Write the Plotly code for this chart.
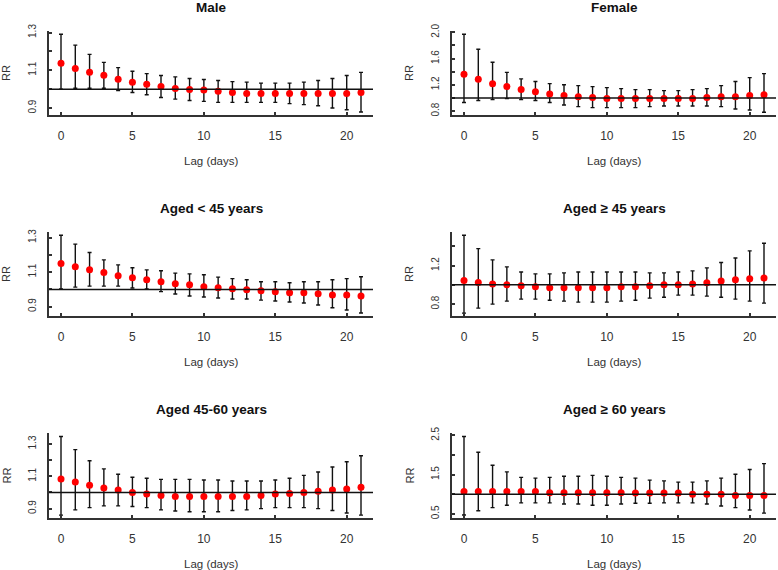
import plotly.graph_objects as go

W, H = 778, 570

lags = list(range(22))

titles = ["Male", "Female", "Aged < 45 years", "Aged \u2265 45 years",
          "Aged 45-60 years", "Aged \u2265 60 years"]

male_rr = [1.137, 1.110, 1.089, 1.074, 1.053, 1.037, 1.026, 1.014, 1.004, 0.998, 0.995,
           0.989, 0.982, 0.977, 0.977, 0.977, 0.977, 0.977, 0.977, 0.977, 0.977, 0.982]
male_hi = [1.291, 1.233, 1.184, 1.142, 1.114, 1.095, 1.082, 1.072, 1.065, 1.056, 1.051,
           1.046, 1.040, 1.037, 1.032, 1.032, 1.032, 1.037, 1.046, 1.056, 1.072, 1.089]
male_lo = [1.000, 1.005, 1.005, 1.005, 0.993, 0.982, 0.970, 0.956, 0.947, 0.940, 0.935,
           0.930, 0.930, 0.930, 0.930, 0.930, 0.923, 0.918, 0.912, 0.900, 0.891, 0.879]

female_rr = [1.360, 1.284, 1.218, 1.173, 1.127, 1.096, 1.061, 1.036, 1.020, 1.005, 0.990,
             0.990, 0.990, 0.990, 0.990, 0.990, 0.990, 1.005, 1.020, 1.020, 1.036, 1.050]
female_hi = [1.970, 1.741, 1.543, 1.390, 1.290, 1.250, 1.218, 1.200, 1.188, 1.173, 1.157,
             1.142, 1.127, 1.127, 1.112, 1.112, 1.127, 1.142, 1.188, 1.250, 1.310, 1.370]
female_lo = [0.930, 0.960, 0.975, 0.990, 0.975, 0.960, 0.930, 0.893, 0.868, 0.853, 0.853,
             0.853, 0.853, 0.868, 0.878, 0.878, 0.878, 0.878, 0.868, 0.832, 0.817, 0.782]

lt45_rr = [1.150, 1.131, 1.113, 1.098, 1.079, 1.067, 1.056, 1.044, 1.033, 1.027, 1.015,
           1.010, 1.004, 0.998, 0.992, 0.987, 0.981, 0.981, 0.975, 0.967, 0.967, 0.962]
lt45_hi = [1.313, 1.262, 1.213, 1.171, 1.142, 1.125, 1.113, 1.108, 1.094, 1.090, 1.085,
           1.071, 1.062, 1.056, 1.044, 1.044, 1.038, 1.044, 1.044, 1.056, 1.062, 1.073]
lt45_lo = [1.002, 1.013, 1.019, 1.019, 1.019, 1.008, 1.002, 0.987, 0.973, 0.962, 0.956,
           0.950, 0.944, 0.944, 0.938, 0.933, 0.927, 0.921, 0.910, 0.894, 0.881, 0.863]

ge45_rr = [1.045, 1.024, 1.010, 1.000, 0.990, 0.979, 0.969, 0.969, 0.969, 0.969, 0.969,
           0.979, 0.979, 0.990, 1.000, 1.000, 1.010, 1.021, 1.041, 1.052, 1.062, 1.072]
ge45_hi = [1.514, 1.376, 1.259, 1.186, 1.134, 1.114, 1.114, 1.124, 1.134, 1.134, 1.134,
           1.134, 1.134, 1.124, 1.124, 1.134, 1.145, 1.176, 1.231, 1.279, 1.352, 1.431]
ge45_lo = [0.707, 0.759, 0.800, 0.831, 0.852, 0.852, 0.841, 0.831, 0.821, 0.821, 0.821,
           0.831, 0.841, 0.862, 0.872, 0.893, 0.893, 0.883, 0.872, 0.852, 0.831, 0.810]

a4560_rr = [1.083, 1.065, 1.044, 1.027, 1.015, 1.000, 0.990, 0.981, 0.975, 0.975, 0.975,
            0.975, 0.975, 0.975, 0.981, 0.990, 0.994, 1.000, 1.008, 1.015, 1.021, 1.033]
a4560_hi = [1.346, 1.265, 1.196, 1.146, 1.113, 1.094, 1.088, 1.081, 1.081, 1.081, 1.077,
            1.077, 1.071, 1.071, 1.071, 1.077, 1.088, 1.106, 1.127, 1.158, 1.190, 1.227]
a4560_lo = [0.860, 0.892, 0.906, 0.917, 0.917, 0.913, 0.906, 0.892, 0.885, 0.881, 0.881,
            0.881, 0.888, 0.892, 0.900, 0.906, 0.906, 0.906, 0.900, 0.888, 0.873, 0.860]

ge60_rr = [1.07, 1.07, 1.07, 1.07, 1.07, 1.07, 1.04, 1.04, 1.04, 1.04, 1.04,
           1.04, 1.03, 1.03, 1.03, 1.03, 1.00, 1.00, 1.00, 0.97, 0.97, 0.97]
ge60_hi = [2.47, 2.07, 1.74, 1.57, 1.43, 1.41, 1.43, 1.46, 1.46, 1.48, 1.46,
           1.43, 1.41, 1.36, 1.34, 1.31, 1.31, 1.34, 1.41, 1.51, 1.63, 1.78]
ge60_lo = [0.47, 0.58, 0.66, 0.72, 0.78, 0.78, 0.78, 0.75, 0.75, 0.72, 0.72,
           0.75, 0.77, 0.77, 0.78, 0.78, 0.78, 0.75, 0.70, 0.66, 0.60, 0.52]

ytick_vals = [
    [0.9, 1.0, 1.1, 1.2, 1.3],
    [0.8, 1.0, 1.2, 1.4, 1.6, 1.8, 2.0],
    [0.9, 1.0, 1.1, 1.2, 1.3],
    [0.8, 1.0, 1.2, 1.4],
    [0.9, 1.0, 1.1, 1.2, 1.3],
    [0.5, 1.0, 1.5, 2.0, 2.5],
]
ytick_text = [
    ["0.9", "", "1.1", "", "1.3"],
    ["0.8", "", "1.2", "", "1.6", "", "2.0"],
    ["0.9", "", "1.1", "", "1.3"],
    ["0.8", "", "1.2", ""],
    ["0.9", "", "1.1", "", "1.3"],
    ["0.5", "", "1.5", "", "2.5"],
]
y_ranges = [[0.863, 1.308], [0.74, 2.02], [0.846, 1.332],
            [0.677, 1.548], [0.842, 1.368], [0.395, 2.56]]
xtick_vals = [0, 5, 10, 15, 20]
x_range = [-0.84, 21.84]

series = [
    (male_rr, male_hi, male_lo),
    (female_rr, female_hi, female_lo),
    (lt45_rr, lt45_hi, lt45_lo),
    (ge45_rr, ge45_hi, ge45_lo),
    (a4560_rr, a4560_hi, a4560_lo),
    (ge60_rr, ge60_hi, ge60_lo),
]

# layout geometry (pixels)
col_x = [(49, 373), (452, 776)]
row_y = [(31, 115), (232, 316), (433, 518)]

FONT = "Liberation Sans, Arial, sans-serif"
AXC = "#333333"

fig = go.Figure()
layout = dict(
    width=W, height=H,
    margin=dict(l=0, r=0, t=0, b=0, pad=0, autoexpand=False),
    paper_bgcolor="white", plot_bgcolor="white",
    showlegend=False,
    font=dict(family=FONT, color="#222222"),
)
annotations = []
shapes = []

for i, (rr, hi, lo) in enumerate(series):
    r, c = divmod(i, 2)
    n = i + 1
    xa = "xaxis" if n == 1 else f"xaxis{n}"
    ya = "yaxis" if n == 1 else f"yaxis{n}"
    xr = "x" if n == 1 else f"x{n}"
    yr = "y" if n == 1 else f"y{n}"
    x0, x1 = col_x[c]
    y0, y1 = row_y[r]
    xdom = [x0 / W, x1 / W]
    ydom = [1 - y1 / H, 1 - y0 / H]

    layout[xa] = dict(
        domain=xdom, anchor=yr, range=x_range,
        tickvals=xtick_vals, ticktext=[str(v) for v in xtick_vals],
        ticks="inside", ticklen=3, tickwidth=1.5, tickcolor=AXC,
        showline=True, linecolor=AXC, linewidth=2,
        showgrid=False, zeroline=False, automargin=False,
        tickfont=dict(family=FONT, size=12, color="#333333"),
        ticklabelstandoff=9,
    )
    layout[ya] = dict(
        domain=ydom, anchor=xr, range=y_ranges[i],
        tickvals=ytick_vals[i], ticktext=ytick_text[i],
        ticks="inside", ticklen=3, tickwidth=1.5, tickcolor=AXC,
        showline=True, linecolor=AXC, linewidth=2,
        showgrid=False, zeroline=False, tickangle=-90, automargin=False,
        tickfont=dict(family=FONT, size=10, color="#333333"),
        ticklabelstandoff=7,
    )

    shapes.append(dict(
        type="line", xref=f"{xr} domain", yref=yr,
        x0=0, x1=1, y0=1.0, y1=1.0,
        line=dict(color="#111111", width=1.5),
    ))

    fig.add_trace(go.Scatter(
        x=lags, y=rr, xaxis=xr, yaxis=yr, mode="markers",
        marker=dict(color="#ff0000", size=7, line=dict(width=0)),
        error_y=dict(
            type="data", symmetric=False,
            array=[h - v for h, v in zip(hi, rr)],
            arrayminus=[v - l for v, l in zip(rr, lo)],
            color="#111111", thickness=1.4, width=2,
        ),
        cliponaxis=False,
    ))

    cx = (x0 + x1) / 2 / W
    annotations.append(dict(
        text=f"<b>{titles[i]}</b>", x=cx, y=1 - (y0 - 24) / H,
        xref="paper", yref="paper", showarrow=False,
        xanchor="center", yanchor="middle",
        font=dict(family=FONT, size=13.5, color="#111111"),
    ))
    annotations.append(dict(
        text="Lag (days)", x=cx, y=1 - (y1 + 46) / H,
        xref="paper", yref="paper", showarrow=False,
        xanchor="center", yanchor="middle",
        font=dict(family=FONT, size=11.5, color="#333333"),
    ))
    annotations.append(dict(
        text="RR", x=(x0 - 43) / W, y=1 - (y0 + y1) / 2 / H,
        xref="paper", yref="paper", showarrow=False, textangle=-90,
        xanchor="center", yanchor="middle",
        font=dict(family=FONT, size=11, color="#333333"),
    ))

layout["annotations"] = annotations
layout["shapes"] = shapes
fig.update_layout(**layout)
fig.write_html(
    "out.html",
    config={"displayModeBar": False},
    post_script="document.documentElement.style.margin='0';"
                "document.body.style.margin='0';"
                "document.body.style.overflow='hidden';",
)
